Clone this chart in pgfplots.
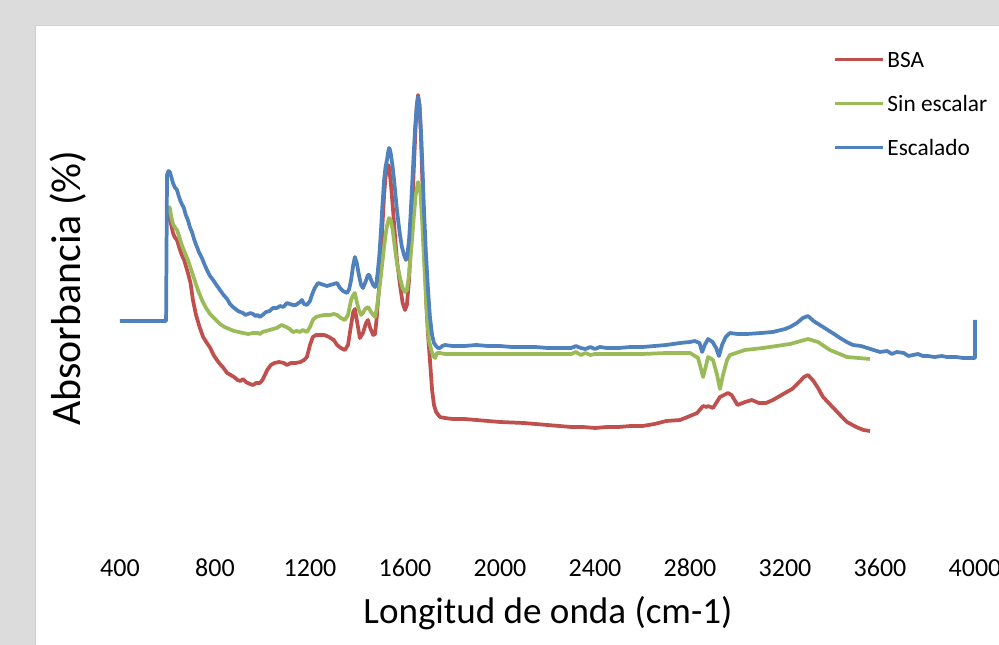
\documentclass[border=0pt]{standalone}
\usepackage{pgfplots}
\pgfplotsset{compat=1.18}
\usepackage{fontspec}
\setmainfont{Carlito}

\definecolor{bsa}{RGB}{192,80,77}
\definecolor{sinesc}{RGB}{155,187,89}
\definecolor{esc}{RGB}{79,129,189}
\definecolor{bgray}{RGB}{220,220,221}
\definecolor{bedge}{RGB}{208,208,209}

\begin{document}
\begin{tikzpicture}[x=0.75pt,y=0.75pt]
% page in pixels, axis box south west corner at the origin
\fill[bgray] (-120,-100) rectangle (879,545);
\fill[white] (-84,-100) rectangle (879,519);
\draw[bedge, line width=0.8pt] (-84.5,-100) -- (-84.5,519.5) -- (879,519.5);

\begin{axis}[
    at={(0pt,0pt)}, anchor=south west,
    scale only axis,
    width=641.25pt, height=363.75pt,
    xmin=400, xmax=4000,
    ymin=100, ymax=585,
    axis line style={draw=none},
    major tick length=0pt,
    ytick=\empty,
    xtick={400,800,...,4000},
    /pgf/number format/assume math mode=true,
    /pgf/number format/1000 sep={},
    xticklabel style={font=\fontsize{19.5}{22}\selectfont, anchor=center, yshift=-17.25pt},
    xlabel={Longitud de onda (cm-1)},
    ylabel={Absorbancia (\%)},
    every axis x label/.style={at={(axis description cs:0.5006,-0.140)}, anchor=center, font=\fontsize{27.8}{32}\selectfont},
    every axis y label/.style={at={(axis description cs:-0.0608,0.530)}, anchor=center, rotate=90, font=\fontsize{31.4}{36}\selectfont},
    legend style={at={(axis description cs:0.829,1.029)}, anchor=north west, draw=none, fill=none,
        font=\fontsize{17.5}{20}\selectfont, row sep=17pt,
        nodes={inner sep=2pt, text height=12pt, text depth=0pt}},
    legend cell align=left,
    legend image code/.code={\draw[#1] (0pt,0pt) -- (36pt,0pt);},
    clip=false,
    every axis plot/.append style={line width=2.8pt, line join=round, mark=none},
]
% BSA
\addplot[bsa] coordinates {
(598,425)(604,430)(610,425)(616,420)(623,412)(630,408)(640,405)(650,397)(660,390)(670,385)
(686,372)(697,362)(707,345)(720,330)(735,318)(750,308)(766,302)(780,297)(794,290)(808,285)
(821,281)(836,277)(851,272)(866,270)(880,268)(895,265)(907,264)(918,266)(930,263)(947,261)
(960,260)(973,262)(989,262)(1000,265)(1010,270)(1020,275)(1035,280)(1050,282)(1070,283)
(1090,282)(1103,280)(1120,282)(1140,282)(1160,283)(1175,285)(1187,288)(1200,300)(1212,308)
(1225,310)(1240,310)(1260,310)(1280,308)(1300,305)(1314,300)(1330,297)(1347,295)(1360,300)
(1373,320)(1382,333)(1389,336)(1397,325)(1410,307)(1423,312)(1436,322)(1444,325)(1452,318)
(1466,310)(1474,311)(1480,325)(1490,355)(1499,385)(1505,420)(1512,450)(1518,468)(1524,476)
(1529,480)(1533,478)(1541,460)(1548,440)(1556,415)(1566,385)(1579,360)(1590,342)(1600,335)
(1608,340)(1617,365)(1626,410)(1636,470)(1645,520)(1650,540)(1655,550)(1661,540)(1667,510)
(1675,450)(1683,390)(1690,340)(1697,310)(1705,285)(1714,255)(1722,240)(1731,233)(1747,228)
(1768,227)(1800,226)(1850,226)(1900,225)(1950,224)(2000,223)(2100,222)(2200,220)(2300,218)
(2350,218)(2400,217)(2450,218)(2500,218)(2550,219)(2600,219)(2650,221)(2700,224)(2758,225)
(2800,229)(2830,232)(2855,239)(2870,238)(2876,239)(2897,237)(2926,248)(2960,252)(2975,250)
(3000,240)(3032,243)(3060,245)(3090,242)(3120,242)(3149,245)(3200,252)(3230,256)(3260,263)
(3280,268)(3297,270)(3320,264)(3339,257)(3360,248)(3400,238)(3432,230)(3461,223)(3500,218)
(3530,215)(3558,214)
};
\addlegendentry{BSA}
% Sin escalar
\addplot[sinesc] coordinates {
(598,432)(604,438)(610,437)(616,428)(623,421)(630,418)(640,415)(650,408)(660,400)(670,394)
(686,385)(700,375)(714,365)(728,355)(745,345)(760,338)(779,331)(800,326)(821,321)(840,318)
(860,316)(880,314)(900,313)(918,312)(940,311)(960,312)(980,312)(989,311)(1000,313)(1015,314)
(1030,315)(1044,316)(1060,317)(1080,320)(1100,318)(1115,316)(1128,313)(1145,314)(1158,313)
(1170,315)(1187,313)(1200,318)(1212,325)(1225,328)(1240,329)(1260,330)(1284,330)(1300,331)
(1314,330)(1330,327)(1347,325)(1360,330)(1373,345)(1382,350)(1389,352)(1397,343)(1406,335)
(1415,330)(1423,332)(1432,336)(1444,338)(1450,336)(1457,333)(1466,330)(1474,328)(1480,335)
(1490,352)(1499,370)(1508,390)(1518,410)(1525,420)(1533,427)(1540,425)(1548,415)(1556,400)
(1566,382)(1579,367)(1590,357)(1600,353)(1608,355)(1617,370)(1626,395)(1636,425)(1645,450)
(1655,463)(1664,455)(1672,425)(1680,385)(1690,340)(1700,305)(1714,292)(1722,288)(1727,287)
(1735,292)(1747,292)(1768,291)(1800,291)(1900,291)(2000,291)(2100,291)(2200,291)(2300,291)
(2320,293)(2340,290)(2360,292)(2380,290)(2400,291)(2500,291)(2600,291)(2700,292)(2758,292)
(2800,292)(2834,287)(2855,268)(2867,279)(2876,288)(2897,285)(2914,270)(2926,256)(2939,270)
(2956,285)(2968,290)(3032,295)(3107,297)(3221,301)(3297,306)(3339,303)(3389,295)(3461,288)
(3558,286)
};
\addlegendentry{Sin escalar}
% Escalado
\addplot[esc] coordinates {
(400,324)(594,324)(598,470)(604,474)(610,473)(616,468)(623,462)(630,458)(640,455)(646,450)
(653,445)(660,441)(669,437)(677,430)(686,425)(694,418)(703,413)(713,405)(724,398)(734,392)
(745,387)(755,381)(766,375)(779,369)(792,365)(806,360)(821,355)(836,350)(851,346)(863,341)
(876,338)(886,336)(897,334)(907,333)(918,332)(928,330)(939,331)(949,332)(960,331)(970,329)
(980,330)(989,328)(1000,330)(1015,333)(1030,334)(1044,337)(1060,337)(1074,339)(1088,338)
(1103,342)(1115,341)(1128,340)(1140,340)(1158,343)(1166,345)(1175,341)(1187,340)(1200,344)
(1208,350)(1220,357)(1234,362)(1246,361)(1259,360)(1272,359)(1284,360)(1300,361)(1314,362)
(1326,357)(1339,354)(1356,352)(1365,356)(1373,365)(1382,380)(1389,388)(1397,382)(1406,370)
(1415,360)(1423,357)(1432,362)(1444,370)(1450,370)(1457,365)(1466,360)(1474,358)(1480,362)
(1486,375)(1492,390)(1499,415)(1505,440)(1512,465)(1518,478)(1524,485)(1529,493)(1533,497)
(1537,495)(1541,490)(1548,478)(1554,465)(1560,450)(1566,435)(1573,421)(1579,410)(1587,398)
(1596,390)(1604,385)(1610,390)(1617,405)(1623,428)(1629,455)(1636,488)(1642,515)(1649,538)
(1655,548)(1661,540)(1667,515)(1674,475)(1680,435)(1688,392)(1697,355)(1705,328)(1714,310)
(1722,302)(1731,299)(1739,297)(1747,297)(1757,299)(1768,300)(1800,299)(1850,299)(1900,300)
(1950,299)(2000,299)(2050,298)(2100,298)(2150,298)(2200,297)(2250,297)(2300,297)(2320,299)
(2340,297)(2360,296)(2380,298)(2400,296)(2420,298)(2450,297)(2500,297)(2550,298)(2600,298)
(2650,299)(2700,300)(2758,302)(2800,303)(2820,304)(2840,302)(2851,293)(2862,300)(2876,306)
(2895,303)(2910,297)(2922,289)(2935,300)(2950,308)(2968,312)(3000,311)(3040,311)(3100,312)
(3149,313)(3200,316)(3221,318)(3250,322)(3275,327)(3297,329)(3320,324)(3360,318)(3400,312)
(3432,307)(3460,303)(3486,300)(3520,299)(3560,296)(3600,293)(3630,294)(3650,291)(3670,293)
(3700,292)(3720,289)(3739,290)(3760,291)(3780,289)(3800,289)(3830,288)(3860,289)(3882,288)
(3920,288)(3950,287)(3992,287)(4000,287)(4000,325)
};
\addlegendentry{Escalado}
\end{axis}
\pgfresetboundingbox
\useasboundingbox (-120,-100) rectangle (879,545);
\end{tikzpicture}
\end{document}
